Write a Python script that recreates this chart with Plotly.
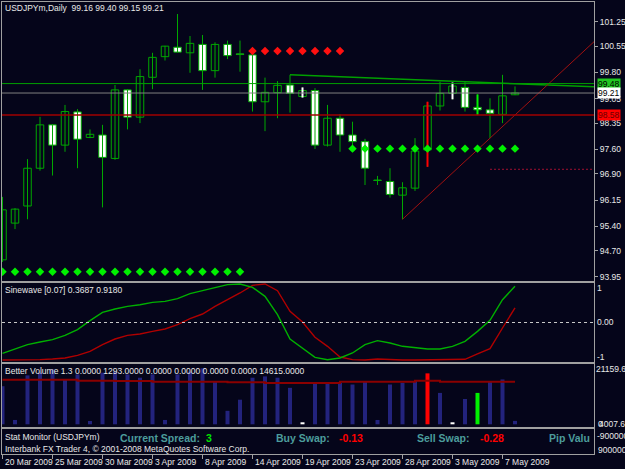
import plotly.graph_objects as go

# ---------------- data ----------------
bar_idx = list(range(42))
opens  = [94.44, 95.49, 95.98, 97.06, 98.30, 97.72, 98.67, 97.94, 98.01, 97.34,
          99.30, 98.52, 99.66, 100.25, 100.52, 100.36, 100.60, 99.85, 100.60, 100.33,
          100.30, 98.96, 99.22, 99.44, 99.11, 99.28, 97.72, 98.49, 98.01, 97.82,
          96.72, 96.68, 96.29, 96.49, 97.58, 98.84, 99.20, 99.37, 98.80, 98.73,
          98.60, 99.16]
highs  = [96.24, 95.92, 97.32, 98.53, 98.32, 98.87, 98.75, 98.17, 98.30, 99.44,
          99.32, 99.89, 100.36, 100.56, 101.47, 100.84, 100.87, 100.66, 100.71, 100.71,
          100.30, 99.65, 99.55, 99.73, 99.37, 99.35, 98.87, 98.61, 98.39, 97.90,
          96.84, 97.06, 96.66, 97.92, 98.96, 99.53, 99.51, 99.55, 99.17, 99.06,
          99.73, 99.40]
lows   = [94.38, 95.32, 95.60, 96.99, 96.85, 97.53, 97.06, 97.92, 95.94, 97.30,
          98.17, 98.35, 99.32, 100.14, 100.38, 99.79, 99.30, 99.65, 100.18, 99.82,
          98.68, 98.12, 98.49, 98.65, 99.08, 97.61, 97.68, 97.53, 97.72, 96.58,
          96.58, 96.22, 95.60, 96.41, 97.10, 98.71, 99.03, 98.68, 98.58, 97.92,
          98.35, 99.15]
closes = [95.87, 95.89, 97.06, 98.30, 97.72, 98.68, 97.89, 98.03, 97.37, 99.30,
          98.52, 99.68, 100.23, 100.55, 100.38, 100.63, 99.85, 100.60, 100.28, 100.31,
          98.96, 99.23, 99.43, 99.20, 99.28, 97.72, 98.49, 98.01, 97.82, 97.06,
          96.71, 96.31, 96.50, 97.55, 98.84, 99.20, 99.41, 98.80, 98.73, 98.63,
          99.13, 99.21]
# volume-indicator colouring per bar: n = normal, w = white, r = red, g = lime
highlight = ["n","n","n","n","n","n","n","n","n","n",
             "n","n","n","n","n","n","n","n","n","n",
             "n","n","n","n","w","n","n","n","n","n",
             "n","n","n","n","r","n","w","n","g","n",
             "n","n"]

sig_red   = [None, None, None, None, None, None, None, None, None, None,
             None, None, None, None, None, None, None, None, None, None,
             100.41, 100.41, 100.41, 100.41, 100.41, 100.41, 100.41, 100.41, None, None,
             None, None, None, None, None, None, None, None, None, None,
             None, None]
sig_green = [94.10, 94.10, 94.10, 94.10, 94.10, 94.10, 94.10, 94.10, 94.10, 94.10,
             94.10, 94.10, 94.10, 94.10, 94.10, 94.10, 94.10, 94.10, 94.10, 94.10,
             None, None, None, None, None, None, None, None, 97.62, 97.62,
             97.62, 97.62, 97.62, 97.62, 97.62, 97.62, 97.62, 97.62, 97.62, 97.62,
             97.62, 97.62]

level_green = 99.48
level_bid = 99.21
level_red = 98.58
level_dotted = 97.03
dotted_start = 39
green_trend_pts = ([23, 40], [99.73, 99.49])
red_trend_pts = ([32, 39], [95.60, 97.92])

price_ticks = [101.25, 100.55, 99.80, 99.05, 98.35, 97.60, 96.90, 96.15, 95.40, 94.70, 93.95]

sine_green = [-0.781, -0.663, -0.561, -0.494, -0.435, -0.325, -0.182, 0.046, 0.257, 0.342,
              0.409, 0.451, 0.511, 0.536, 0.603, 0.730, 0.806, 0.899, 0.958, 0.975,
              0.890, 0.663, 0.198, -0.418, -0.646, -0.882, -0.941, -0.899, -0.772, -0.561,
              -0.460, -0.519, -0.603, -0.646, -0.671, -0.671, -0.603, -0.477, -0.224, 0.055,
              0.578, 0.918]
sine_red = [-0.949, -0.949, -0.949, -0.941, -0.924, -0.899, -0.831, -0.730, -0.561, -0.418,
            -0.325, -0.291, -0.224, -0.165, -0.055, 0.097, 0.215, 0.409, 0.578, 0.747,
            0.941, 0.975, 0.806, 0.283, 0.013, -0.375, -0.603, -0.873, -0.941, -0.949,
            -0.924, -0.941, -0.949, -0.949, -0.949, -0.949, -0.949, -0.932, -0.797, -0.663,
            -0.139, 0.3687]

volume = [14386, 1645, 18480, 19513, 20775, 16949, 18862, 1263, 19513, 19895,
          18862, 17600, 18862, 1645, 18862, 19895, 21159.6, 16299, 5089, 9297,
          17600, 18097, 17600, 13774, 765, 15687, 15687, 15687, 15036, 16069,
          1645, 15036, 15687, 16299, 19245, 11861, 765, 9565, 11861, 16069,
          16949, 1293]
volume_ma = [16860, 16860, 16860, 16860, 16860, 16860, 16480, 16480, 16480, 16368,
             16368, 16368, 16100, 16100, 16100, 16100, 16100, 16100, 15876, 15876,
             15876, 15610, 15610, 15610, 15610, 15610, 15610, 16100, 16100, 16100,
             16100, 16100, 16100, 16480, 16480, 16100, 16100, 16100, 16100, 16100,
             16100, 16100]

date_tick_idx = [0, 4, 8, 12, 16, 20, 24, 28, 32, 36, 40]
date_tick_labels = ["20 Mar 2009", "25 Mar 2009", "30 Mar 2009", "3 Apr 2009", "8 Apr 2009",
                    "14 Apr 2009", "19 Apr 2009", "23 Apr 2009", "28 Apr 2009", "3 May 2009",
                    "7 May 2009"]

# ---------------- style ----------------
W, H = 625, 469
BG = "#05051a"
FRAME = "#a0a0a0"
CANDLE = "#00a800"
LIME = "#00f000"
TXT = "#e8e8e8"
TEAL = "#4c9c9c"
NARROW = "Liberation Sans Narrow, Arial Narrow, Liberation Sans, sans-serif"
BOLD = "Liberation Sans, Arial, sans-serif"
FS = 8.5
X_RANGE = [-0.04, 47.32]

def px_x(x):
    return x / W

def px_y(y):
    return 1 - y / H

fig = go.Figure()

# wicks
wx, wy = [], []
for i, h, l in zip(bar_idx, highs, lows):
    wx += [i, i, None]
    wy += [h, l, None]
fig.add_trace(go.Scatter(x=wx, y=wy, mode="lines", line=dict(color=CANDLE, width=1),
                         hoverinfo="skip", xaxis="x", yaxis="y"))
# bodies
bases = [min(o, c) for o, c in zip(opens, closes)]
heights = [max(abs(c - o), 0.012) for o, c in zip(opens, closes)]
fills = [BG if c >= o else "#ffffff" for o, c in zip(opens, closes)]
fig.add_trace(go.Bar(x=bar_idx, y=heights, base=bases, width=0.6,
                     marker=dict(color=fills, line=dict(color=CANDLE, width=1)),
                     xaxis="x", yaxis="y"))
# highlighted candles
hl_colors = {"w": "#ffffff", "r": "#ff0000", "g": LIME}
for key, col in hl_colors.items():
    hx, hy = [], []
    for i, f in zip(bar_idx, highlight):
        if f == key:
            hx += [i, i, None]
            hy += [highs[i], lows[i], None]
    fig.add_trace(go.Scatter(x=hx, y=hy, mode="lines", line=dict(color=col, width=2),
                             xaxis="x", yaxis="y"))

# trend lines (rays to the right edge)
def ray(pts, color, width):
    (x0, x1), (y0, y1) = pts
    slope = (y1 - y0) / (x1 - x0)
    xe = X_RANGE[1]
    fig.add_trace(go.Scatter(x=[x0, xe], y=[y0, y0 + slope * (xe - x0)], mode="lines",
                             line=dict(color=color, width=width), xaxis="x", yaxis="y"))

ray(green_trend_pts, "#00a000", 1.5)
ray(red_trend_pts, "#a01010", 1)

# signal diamonds
fig.add_trace(go.Scatter(x=bar_idx, y=sig_red, mode="markers",
                         marker=dict(symbol="diamond", size=6.5, color="#ff1010"),
                         xaxis="x", yaxis="y"))
fig.add_trace(go.Scatter(x=bar_idx, y=sig_green, mode="markers",
                         marker=dict(symbol="diamond", size=6.5, color=LIME),
                         xaxis="x", yaxis="y"))

# sinewave
fig.add_trace(go.Scatter(x=bar_idx, y=sine_red, mode="lines", line=dict(color="#b00000", width=1.4),
                         xaxis="x2", yaxis="y2"))
fig.add_trace(go.Scatter(x=bar_idx, y=sine_green, mode="lines", line=dict(color="#00b000", width=1.4),
                         xaxis="x2", yaxis="y2"))

# volume
vcol = {"n": "#23237d", "w": "#ffffff", "r": "#ff0000", "g": LIME}
fig.add_trace(go.Bar(x=bar_idx, y=volume, width=0.32,
                     marker=dict(color=[vcol[f] for f in highlight], line=dict(width=0)),
                     xaxis="x3", yaxis="y3"))
fig.add_trace(go.Scatter(x=bar_idx, y=volume_ma, mode="lines", line=dict(color="#8b0000", width=2, shape="hv"),
                         xaxis="x3", yaxis="y3"))

# ---------------- layout ----------------
xdom = [px_x(2), px_x(594)]
def xax(anchor, **kw):
    d = dict(domain=xdom, range=X_RANGE, anchor=anchor, showline=True, mirror=True,
             linecolor=FRAME, linewidth=1, showgrid=False, zeroline=False,
             showticklabels=False, ticks="", fixedrange=True)
    d.update(kw)
    return d

def yax(top_px, bot_px, rng, anchor, **kw):
    d = dict(domain=[px_y(bot_px), px_y(top_px)], range=rng, anchor=anchor, side="right",
             showline=True, mirror=True, linecolor=FRAME, linewidth=1, showgrid=False,
             zeroline=False, showticklabels=False, ticks="")
    d.update(kw)
    return d

vol_scale = 377.8
layout = dict(
    width=W, height=H, margin=dict(l=0, r=0, t=0, b=0),
    paper_bgcolor=BG, plot_bgcolor=BG, showlegend=False, barmode="overlay",
    xaxis=xax("y"),
    xaxis2=xax("y2"),
    xaxis3=xax("y3"),
    xaxis4=xax("y4", ticks="outside", tickvals=date_tick_idx, ticklen=4, tickcolor=FRAME),
    yaxis=yax(2, 281, [93.835, 101.813], "x", ticks="outside", ticklen=3, tickcolor=FRAME,
              tickvals=price_ticks, ticktext=[f"{v:.2f}" for v in price_ticks],
              showticklabels=True, tickfont=dict(family=NARROW, size=FS, color=TXT)),
    yaxis2=yax(283, 362, [-1.0, 1.0], "x2"),
    yaxis3=yax(364, 427, [-(427 - 424.3) * vol_scale, (424.3 - 364) * vol_scale], "x3"),
    yaxis4=yax(429, 454, [0, 1], "x4"),
)
fig.update_layout(**layout)

shapes = [
    dict(type="line", xref="x domain", yref="y", x0=0, x1=1, y0=level_green, y1=level_green,
         line=dict(color="#00a000", width=1)),
    dict(type="line", xref="x domain", yref="y", x0=0, x1=1, y0=level_bid, y1=level_bid,
         line=dict(color="#808080", width=1)),
    dict(type="line", xref="x domain", yref="y", x0=0, x1=1, y0=level_red, y1=level_red,
         line=dict(color="#a00000", width=1.5)),
    dict(type="line", xref="x", yref="y", x0=dotted_start, x1=X_RANGE[1], y0=level_dotted, y1=level_dotted,
         line=dict(color="#a01030", width=1, dash="2px,2px")),
    dict(type="line", xref="x2 domain", yref="y2", x0=0, x1=1, y0=0, y1=0,
         line=dict(color="#c8c8c8", width=1, dash="3px,3px")),
]
fig.update_layout(shapes=shapes)

ann = []
def txt(x, y, s, color=TXT, size=FS, family=NARROW, xanchor="left", bold=False, **kw):
    a = dict(x=px_x(x), y=px_y(y), xref="paper", yref="paper", text=(f"<b>{s}</b>" if bold else s),
             showarrow=False, xanchor=xanchor, yanchor="middle",
             font=dict(family=family, size=size, color=color), borderpad=0)
    a.update(kw)
    ann.append(a)

txt(4, 8, "USDJPYm,Daily&nbsp;&nbsp;99.16 99.40 99.15 99.21")
txt(4, 290, "Sinewave [0.07] 0.3687 0.9180")
txt(4, 371, "Better Volume 1.3 0.0000 1293.0000 0.0000 0.0000 0.0000 0.0000 14615.0000")
txt(4, 437, "Stat Monitor (USDJPYm)")
txt(4, 449, "Interbank FX Trader 4, © 2001-2008 MetaQuotes Software Corp.")
txt(119, 438, "Current Spread:", color=TEAL, size=10.5, family=BOLD, bold=True)
txt(205, 438, "3", color="#00e000", size=10.5, family=BOLD, bold=True)
txt(275, 438, "Buy Swap:", color=TEAL, size=10.5, family=BOLD, bold=True)
txt(338, 438, "-0.13", color="#ff0000", size=10.5, family=BOLD, bold=True)
txt(416, 438, "Sell Swap:", color=TEAL, size=10.5, family=BOLD, bold=True)
txt(479, 438, "-0.28", color="#ff0000", size=10.5, family=BOLD, bold=True)
txt(548, 438, "Pip Valu", color=TEAL, size=10.5, family=BOLD, bold=True)
# right side labels of lower panels
txt(596, 288, "1")
txt(596, 321.5, "0.00")
txt(596, 357, "-1")
txt(595, 369, "21159.6")
txt(597, 424, "0")
txt(598, 424, "4007.6")
txt(596, 436, "-90000000")
txt(597, 450, "90000000")

# price boxes on the right axis
for lvl, bg, fc in [(level_green, "#22c822", "#000000"), (level_bid, "#ffffff", "#000000"),
                    (level_red, "#ff0000", "#6a0000")]:
    ann.append(dict(x=px_x(597), y=lvl, xref="paper", yref="y", text=f"{lvl:.2f}", showarrow=False,
                    xanchor="left", yanchor="middle", bgcolor=bg, borderpad=0,
                    font=dict(family=NARROW, size=FS, color=fc)))

# date labels (left-aligned at their ticks)
for k, lab in zip(date_tick_idx, date_tick_labels):
    ann.append(dict(x=k, y=px_y(462), xref="x4", yref="paper", text=lab, showarrow=False,
                    xanchor="left", yanchor="middle", font=dict(family=NARROW, size=FS, color=TXT)))

fig.update_layout(annotations=ann)
fig.write_html("out.html")
